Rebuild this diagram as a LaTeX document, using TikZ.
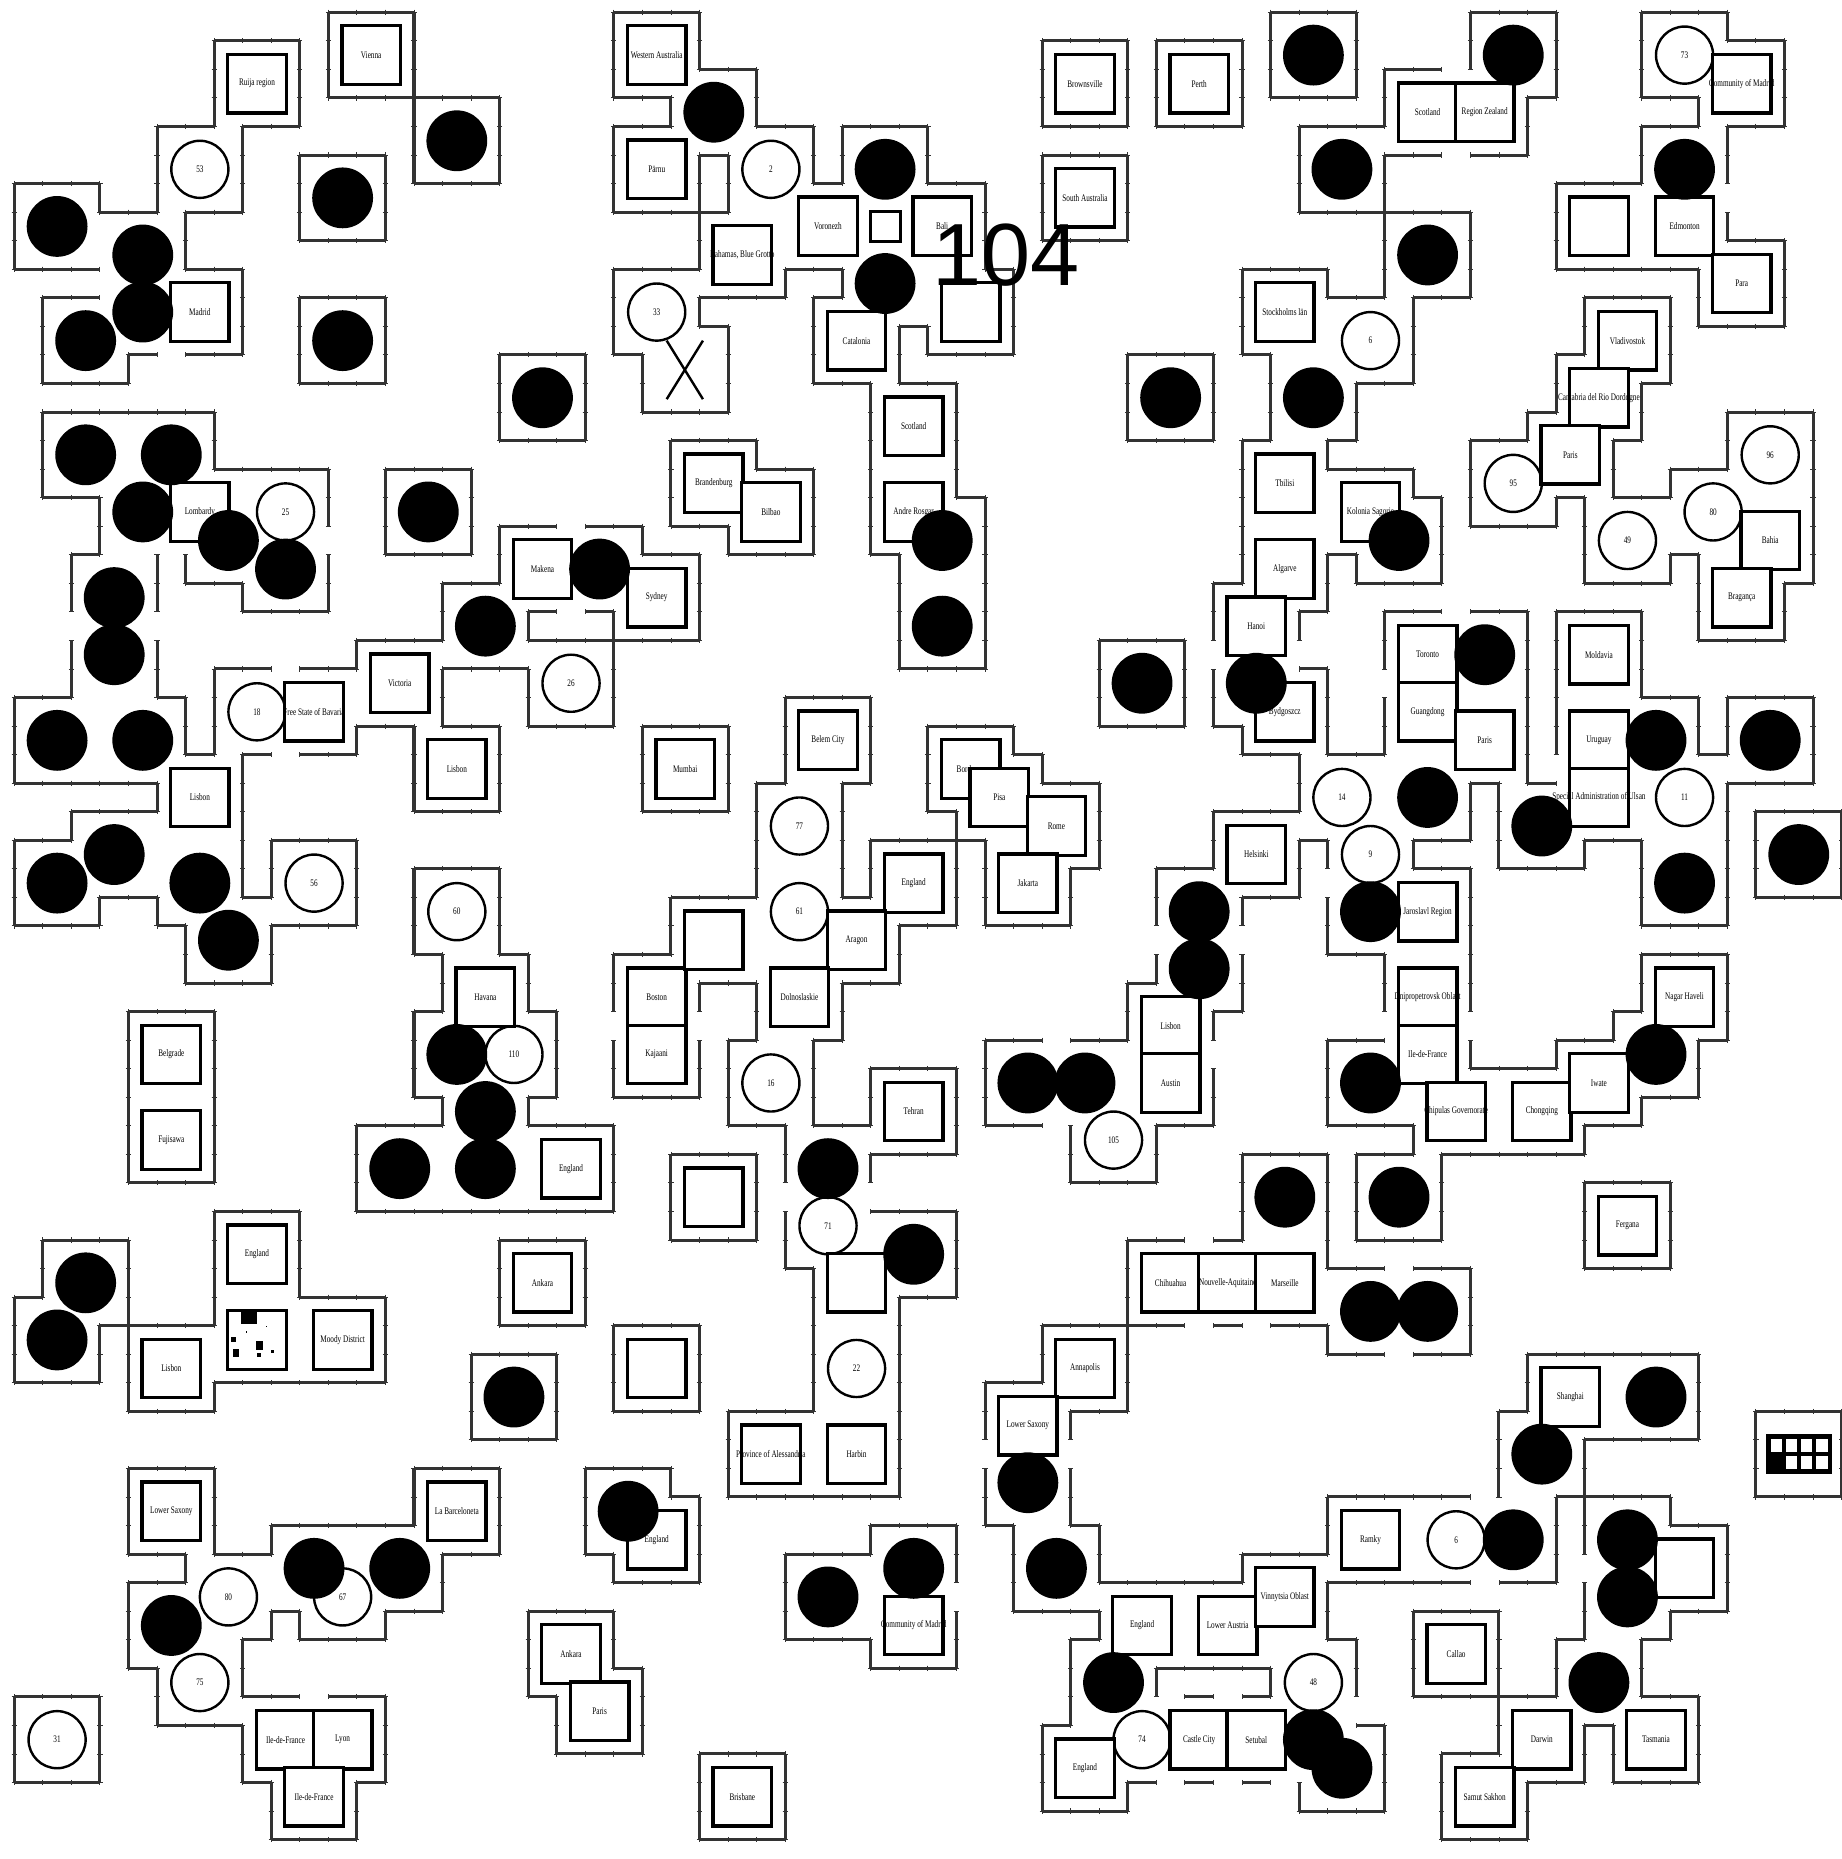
\documentclass[tikz,border=0pt]{standalone}
\usepackage{fontspec}
\newfontfamily\lblfont[FakeStretch=0.72]{Liberation Serif}
\newfontfamily\bigfont{Liberation Sans}
\tikzset{
  regline/.style={line width=3pt, black!80, line cap=square},
  regtick/.style={line width=0.9pt, black!80},
  obox/.style={draw, line width=3.3pt, fill=white, minimum size=2.05cm, inner sep=0pt, outer sep=0pt},
  sbox/.style={draw, line width=3pt, fill=white, minimum size=1.05cm, inner sep=0pt},
  hcirc/.style={circle, draw, line width=2.4pt, fill=white, minimum size=2cm, inner sep=0pt},
  kcirc/.style={circle, fill=black, minimum size=2.13cm, inner sep=0pt},
  lbl/.style={font=\lblfont\fontsize{10}{11}\selectfont, inner sep=0pt},
  xmark/.style={line width=2.4pt}
}
% ---------- region outline machinery ----------
\newcommand\RgIncr[1]{%
  \edef\RgKey{#1}%
  \expandafter\ifx\csname\RgKey\endcsname\relax
    \expandafter\xdef\csname\RgKey\endcsname{1}%
  \else
    \expandafter\xdef\csname\RgKey\endcsname{\the\numexpr\csname\RgKey\endcsname+1\relax}%
  \fi}
\newcommand\RgCell[2]{%
  \foreach \rgK in {-2,-1,0,1}{%
    \foreach \rgJ in {-1,0,1}{%
      \RgIncr{rgh/\the\numexpr#1+\rgJ\relax/\the\numexpr#2+\rgK\relax}%
      \RgIncr{rgv/\the\numexpr#1+\rgK\relax/\the\numexpr#2+\rgJ\relax}%
    }}}
\newcommand\RgHseg[2]{%
  \draw[regline] (#1-0.5,#2+0.5) -- (#1+0.5,#2+0.5);
  \draw[regtick] (#1-0.5,#2+0.41) -- (#1-0.5,#2+0.59) (#1+0.5,#2+0.41) -- (#1+0.5,#2+0.59);}
\newcommand\RgVseg[2]{%
  \draw[regline] (#1+0.5,#2-0.5) -- (#1+0.5,#2+0.5);
  \draw[regtick] (#1+0.41,#2-0.5) -- (#1+0.59,#2-0.5) (#1+0.41,#2+0.5) -- (#1+0.59,#2+0.5);}
\newcommand\RgDraw[2]{%
  \foreach \rgJ in {-1,0,1}{%
    \edef\rgX{\the\numexpr#1+\rgJ\relax}\edef\rgY{\the\numexpr#2+\rgJ\relax}%
    \edef\rgL{\the\numexpr#1-2\relax}\edef\rgR{\the\numexpr#1+1\relax}%
    \edef\rgT{\the\numexpr#2-2\relax}\edef\rgB{\the\numexpr#2+1\relax}%
    \ifnum\csname rgh/\rgX/\rgT\endcsname=1 \RgHseg{\rgX}{\rgT}\fi
    \ifnum\csname rgh/\rgX/\rgB\endcsname=1 \RgHseg{\rgX}{\rgB}\fi
    \ifnum\csname rgv/\rgL/\rgY\endcsname=1 \RgVseg{\rgL}{\rgY}\fi
    \ifnum\csname rgv/\rgR/\rgY\endcsname=1 \RgVseg{\rgR}{\rgY}\fi
  }}
% ---------- object lists ----------
\def\BoxList{13/2/Vienna, 9/3/Ruija region, 7/11/Madrid, 23/2/Western Australia, 23/6/Pärnu, 29/8/Voronezh, 33/8/Bali, 26/9/{Bahamas, Blue Grotto}, 30/12/Catalonia, 38/3/Brownsville, 42/3/Perth, 38/7/South Australia, 32/15/Scotland, 32/18/Andre Rosgar, 25/17/Brandenburg, 27/18/Bilbao, 7/18/Lombardy, 7/28/Lisbon, 11/25/Free State of Bavaria, 14/24/Victoria, 16/27/Lisbon, 19/20/Makena, 23/21/Sydney, 24/27/Mumbai, 29/26/Belem City, 32/31/England, 30/33/Aragon, 23/35/Boston, 23/37/Kajaani, 28/35/Dolnoslaskie, 32/39/Tehran, 27/51/Province of Alessandria, 30/51/Harbin, 19/45/Ankara, 23/54/England, 32/57/Community of Madrid, 26/63/Brisbane, 20/58/Ankara, 21/60/Paris, 17/35/Havana, 20/41/England, 6/37/Belgrade, 6/40/Fujisawa, 9/44/England, 12/47/Moody District, 6/48/Lisbon, 6/53/Lower Saxony, 16/53/La Barceloneta, 10/61/Ile-de-France, 12/61/Lyon, 11/63/Ile-de-France, 50/4/Scotland, 52/4/Region Zealand, 45/11/Stockholms län, 61/3/Community of Madrid, 59/8/Edmonton, 61/10/Para, 57/12/Vladivostok, 56/14/Cantabria del Rio Dordogne, 55/16/Paris, 62/19/Bahia, 61/21/Bragança, 45/17/Tbilisi, 48/18/Kolonia Sagorie, 45/20/Algarve, 44/22/Hanoi, 45/25/Bydgoszcz, 50/23/Toronto, 50/25/Guangdong, 52/26/Paris, 44/30/Helsinki, 50/32/Jaroslavl Region, 56/23/Moldavia, 56/26/Uruguay, 56/28/Special Administration of Ulsan, 50/35/Dnipropetrovsk Oblast, 50/37/Ile-de-France, 51/39/Chipulas Governorate, 54/39/Chongqing, 56/38/Iwate, 59/35/Nagar Haveli, 41/36/Lisbon, 41/38/Austin, 41/45/Chihuahua, 43/45/Nouvelle-Aquitaine, 45/45/Marseille, 57/43/Fergana, 38/48/Annapolis, 36/50/Lower Saxony, 55/49/Shanghai, 48/54/Ramky, 40/57/England, 43/57/Lower Austria, 45/56/Vinnytsia Oblast, 38/62/England, 42/61/Castle City, 44/61/Setubal, 51/58/Callao, 54/61/Darwin, 58/61/Tasmania, 52/63/Samut Sakhon, 34/27/Bordeaux, 35/28/Pisa, 37/29/Rome, 36/31/Jakarta}
\def\EmptyList{34/11, 25/33, 30/45, 25/42, 23/48, 56/8, 59/55}
\def\HolList{7/6/53, 27/6/2, 23/11/33, 10/18/25, 9/25/18, 20/24/26, 11/31/56, 28/29/77, 28/32/61, 27/38/16, 29/43/71, 30/48/22, 16/32/60, 18/37/110, 12/56/67, 8/56/80, 7/59/75, 2/61/31, 48/12/6, 59/2/73, 53/17/95, 62/16/96, 60/18/80, 57/19/49, 47/28/14, 48/30/9, 59/28/11, 39/40/105, 51/54/6, 46/59/48, 40/61/74}
\def\BlkList{16/5, 12/7, 2/8, 5/9, 5/11, 3/12, 12/12, 19/14, 25/4, 31/6, 31/10, 33/19, 33/22, 15/18, 3/16, 6/16, 5/18, 8/19, 10/20, 4/21, 4/23, 2/26, 5/26, 4/30, 2/31, 7/31, 8/33, 17/22, 21/20, 29/41, 32/44, 18/49, 22/53, 29/56, 32/55, 16/37, 17/39, 14/41, 17/41, 3/45, 2/47, 11/55, 14/55, 6/57, 53/2, 47/6, 50/9, 46/14, 41/14, 59/6, 49/19, 44/24, 40/24, 52/23, 50/28, 42/32, 42/34, 48/32, 58/26, 62/26, 54/29, 59/31, 63/30, 48/38, 58/37, 36/38, 38/38, 45/42, 49/42, 48/46, 50/46, 36/52, 37/55, 58/49, 54/51, 53/54, 57/54, 57/56, 39/59, 46/61, 47/62, 56/59, 46/2}
\def\MiscList{31/8, 24/13, 9/47, 63/51}
\begin{document}
\begin{tikzpicture}[x=1cm,y=-1cm]
\useasboundingbox (0,0.07) rectangle (64.51,65.18);
% register cells
\foreach \x/\y/\lab in \BoxList {\RgCell{\x}{\y}}
\foreach \x/\y in \EmptyList {\RgCell{\x}{\y}}
\foreach \x/\y/\lab in \HolList {\RgCell{\x}{\y}}
\foreach \x/\y in \BlkList {\RgCell{\x}{\y}}
\foreach \x/\y in \MiscList {\RgCell{\x}{\y}}
% draw region outlines
\foreach \x/\y/\lab in \BoxList {\RgDraw{\x}{\y}}
\foreach \x/\y in \EmptyList {\RgDraw{\x}{\y}}
\foreach \x/\y/\lab in \HolList {\RgDraw{\x}{\y}}
\foreach \x/\y in \BlkList {\RgDraw{\x}{\y}}
\foreach \x/\y in \MiscList {\RgDraw{\x}{\y}}
% hollow circles
\foreach \x/\y/\lab in \HolList {\node[hcirc] (h\x x\y) at (\x,\y) {}; \node[lbl] (hl\x x\y) at (\x,\y) {\lab};}
% boxes
\foreach \x/\y/\lab in \BoxList {\node[obox] (b\x x\y) at (\x,\y) {}; \node[lbl] (bl\x x\y) at (\x,\y) {\lab};}
\foreach \x/\y in \EmptyList {\node[obox] (e\x x\y) at (\x,\y) {};}
\node[sbox] (s31x8) at (31,8) {};
% X mark
\coordinate (xa) at (23.35,12.0); \coordinate (xb) at (24.62,14.05);
\coordinate (xc) at (23.35,14.05); \coordinate (xd) at (24.62,12.0);
\draw[xmark] (xa) -- (xb) (xc) -- (xd);
% noise icon
\node[obox] (icon1) at (9,47) {};
\fill (8.44,45.93) rectangle (8.99,46.45);
\fill (8.1,46.9) rectangle (8.27,47.07);
\fill (8.95,47.05) rectangle (9.2,47.35);
\fill (8.15,47.3) rectangle (8.38,47.58);
\fill (9.0,47.45) rectangle (9.15,47.6);
\fill (9.5,47.35) rectangle (9.6,47.45);
\fill (8.6,46.7) rectangle (8.65,46.75);
\fill (9.3,46.5) rectangle (9.35,46.55);
% grid icon
\node[draw, line width=3pt, fill=black, minimum width=2.2cm, minimum height=1.3cm, inner sep=0pt] (icon2) at (63,51) {};
\foreach \i in {0,1,2,3}{\fill[white] (62.02+0.53*\i,50.48) rectangle ++(0.4,0.45);}
\foreach \i in {1,2,3}{\fill[white] (62.02+0.53*\i,51.07) rectangle ++(0.4,0.45);}
% black circles
\foreach \x/\y in \BlkList {\node[kcirc] (k\x x\y) at (\x,\y) {};}
% big number
\node[font=\bigfont\fontsize{88}{90}\selectfont, inner sep=0pt] (big) at (35.25,9.0) {104};
\end{tikzpicture}
\end{document}
